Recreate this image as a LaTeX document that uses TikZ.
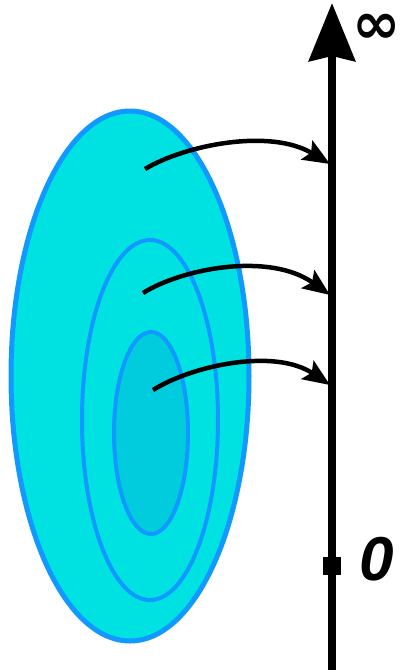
\documentclass[tikz,border=0pt]{standalone}
\usepackage{fontspec}
\usetikzlibrary{arrows.meta}
\newfontfamily\symfont{DejaVu Sans}
\newfontfamily\labfont{Liberation Sans}
\definecolor{discfill}{RGB}{0,226,226}
\definecolor{corefill}{RGB}{0,204,221}
\definecolor{ringblue}{RGB}{17,153,255}
\begin{document}
\begin{tikzpicture}[x=1pt,y=-1pt,
  ring/.style={draw=ringblue,line width=4},
  maparrow/.style={line width=4.5,-{Stealth[length=27pt,width=22pt,inset=5pt]}},
  axisline/.style={line width=8,-{Stealth[length=58pt,width=46pt,inset=5pt]}},
  lab/.style={inner sep=0pt}]
\useasboundingbox (0,0) rectangle (405,670);
% discs
\draw[ring,fill=discfill,line width=5] (130,376) ellipse [x radius=119,y radius=265];
\draw[ring,fill=discfill] (150,420) ellipse [x radius=68,y radius=180];
\draw[ring,fill=corefill] (151,433) ellipse [x radius=37,y radius=101];
% axis
\coordinate (axbot) at (332,672);
\coordinate (axtop) at (332,3);
\draw[axisline] (axbot) -- (axtop);
\node[lab,fill=black,minimum size=18pt] (zeromark) at (332,566) {};
\node[lab,font=\labfont\bfseries\itshape\fontsize{62}{62}\selectfont] (zero) at (377,559) {0};
\node[lab,font=\symfont\bfseries\fontsize{58}{58}\selectfont] (inf) at (377,29) {∞};
% arrows
\coordinate (s1) at (145,169); \coordinate (e1) at (330,164);
\coordinate (s2) at (143,293); \coordinate (e2) at (330,295);
\coordinate (s3) at (153,390); \coordinate (e3) at (330,385);
\draw[maparrow] (s1) .. controls (185,145) and (270,128) .. (e1);
\draw[maparrow] (s2) .. controls (183,268) and (270,252) .. (e2);
\draw[maparrow] (s3) .. controls (193,365) and (275,348) .. (e3);
\end{tikzpicture}
\end{document}
